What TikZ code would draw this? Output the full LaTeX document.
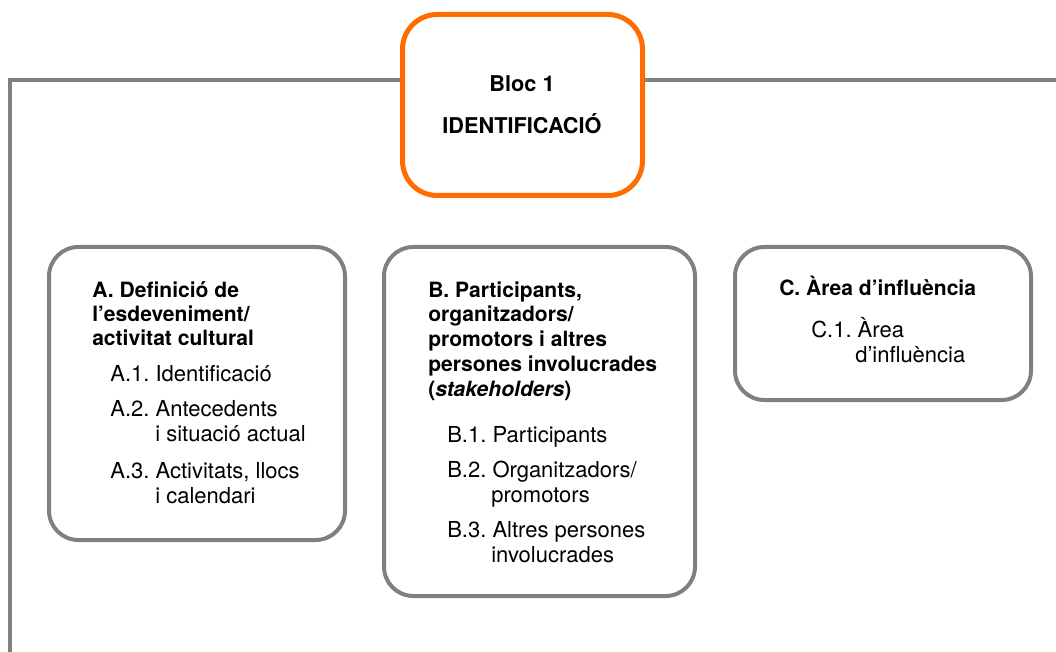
\documentclass[tikz,border=0pt]{standalone}
\usepackage{fontspec}
\setmainfont{TeX Gyre Heros}
\definecolor{blocorange}{HTML}{FF6D00}
\definecolor{linegray}{HTML}{808080}
\begin{document}
\frenchspacing
\begin{tikzpicture}[x=0.75pt,y=-0.75pt,
  blocbox/.style={draw=blocorange,line width=3.75pt,rounded corners=26pt,fill=white,inner sep=0pt},
  secbox/.style={draw=linegray,line width=3pt,rounded corners=22pt,inner sep=0pt},
  frame/.style={draw=linegray,line width=2.4pt},
  txt/.style={anchor=base west,inner sep=0pt,font=\fontsize{16.5pt}{18pt}\selectfont},
  head/.style={anchor=base west,inner sep=0pt,font=\fontsize{15.8pt}{18pt}\selectfont\bfseries},
  title/.style={anchor=base,inner sep=0pt,font=\fontsize{16.3pt}{18pt}\selectfont\bfseries}]
\useasboundingbox (0,0) rectangle (1056,652);
% frame lines
\coordinate (tl) at (10,80);
\coordinate (bl) at (10,652);
\coordinate (tr) at (1056,80);
\node[blocbox,minimum width={240*0.75pt},minimum height={181*0.75pt}] (bloc) at (522.5,105) {};
\draw[frame] (bloc.west |- tl) -- (tl) -- (bl);
\draw[frame] (bloc.east |- tr) -- (tr);
\node[title] (b1) at (522,92) {Bloc 1};
\node[title] (b2) at (522,134) {IDENTIFICACIÓ};
% section boxes
\node[secbox,minimum width={296*0.75pt},minimum height={293*0.75pt}] (A) at (197,393.5) {};
\node[secbox,minimum width={311*0.75pt},minimum height={349*0.75pt}] (B) at (539.5,421.5) {};
\node[secbox,minimum width={296*0.75pt},minimum height={153*0.75pt}] (C) at (883,323.5) {};
% box A text
\node[head] (a0) at (92,297) {A. Definició de};
\node[head] (a1) at (92,321) {l’esdeveniment/};
\node[head] (a2) at (92,345) {activitat cultural};
\node[txt] (a3) at (110,381) {A.1. Identificació};
\node[txt] (a4) at (110,416) {A.2. Antecedents};
\node[txt] (a5) at (155,441) {i situació actual};
\node[txt] (a6) at (110,478) {A.3. Activitats, llocs};
\node[txt] (a7) at (155,503) {i calendari};
% box B text
\node[head] (p0) at (428,297) {B. Participants,};
\node[head] (p1) at (428,321.5) {organitzadors/};
\node[head] (p2) at (428,346) {promotors i altres};
\node[head] (p3) at (428,371) {persones involucrades};
\node[head] (p4) at (428,396.5) {(\textit{stakeholders})};
\node[txt] (p5) at (447,442) {B.1. Participants};
\node[txt] (p6) at (447,477) {B.2. Organitzadors/};
\node[txt] (p7) at (491,502) {promotors};
\node[txt] (p8) at (447,537) {B.3. Altres persones};
\node[txt] (p9) at (491,562) {involucrades};
% box C text
\node[head] (c0) at (779,296) {C. Àrea d’influència};
\node[txt] (c1) at (811,337) {C.1. Àrea};
\node[txt] (c2) at (855,362) {d’influència};
\end{tikzpicture}
\end{document}
